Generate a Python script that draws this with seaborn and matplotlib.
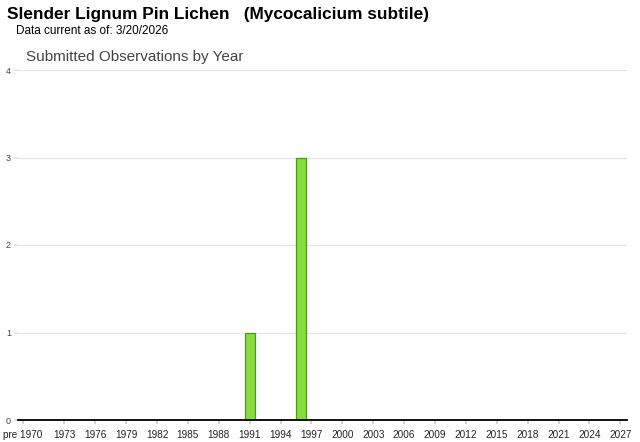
import matplotlib
matplotlib.use('Agg')
import pandas as pd
import matplotlib.pyplot as plt
import seaborn as sns

# observation data
first_year = 1970
last_year = 2027
obs_years = [1991, 1996]
obs_counts = [1, 3]
tick_years = list(range(1973, 2028, 3))

categories = ['pre 1970'] + [str(y) for y in range(first_year, last_year + 1)]
counts = dict(zip([str(y) for y in obs_years], obs_counts))
df = pd.DataFrame({'Year': categories, 'Count': [counts.get(c, 0) for c in categories]})

sns.set_theme(style='white')
plt.rcParams['font.family'] = ['Liberation Sans', 'DejaVu Sans']

fig = plt.figure(figsize=(6.4, 4.42), dpi=100)
ax = fig.add_axes([18 / 640, 22 / 442, 609 / 640, 350 / 442])

sns.barplot(data=df, x='Year', y='Count', order=categories, color='#86dc40',
            edgecolor='#4d9a17', linewidth=0.9, width=0.98, saturation=1, ax=ax)

ax.set_ylim(0, 4)
ax.set_xlim(-0.5, len(categories) - 0.35)
ax.set_yticks([0, 1, 2, 3, 4])
ax.yaxis.grid(True, color='#e3e3e3', linewidth=0.9)
ax.set_axisbelow(True)

tick_pos = [0] + [categories.index(str(y)) for y in tick_years]
tick_lab = ['pre 1970'] + [str(y) for y in tick_years]
ax.set_xticks(tick_pos)
ax.set_xticklabels(tick_lab, fontsize=7.2, color='#222222')
ax.tick_params(axis='x', length=3, color='#cccccc', pad=4, bottom=True)
ax.tick_params(axis='y', labelsize=6.5, colors='#444444', length=3, pad=2, left=True)
ax.tick_params(axis='y', color='#e3e3e3')

for s in ['top', 'right', 'left']:
    ax.spines[s].set_visible(False)
ax.spines['bottom'].set_color('black')
ax.spines['bottom'].set_linewidth(1.3)
ax.set_xlabel('')
ax.set_ylabel('')

fig.text(7 / 640, 1 - 15 / 442, 'Slender Lignum Pin Lichen   (Mycocalicium subtile)',
         fontsize=12.4, fontweight='bold', va='center', ha='left', color='black')
fig.text(16 / 640, 1 - 31 / 442, 'Data current as of: 3/20/2026',
         fontsize=8.5, va='center', ha='left', color='black')
fig.text(26 / 640, 1 - 57 / 442, 'Submitted Observations by Year',
         fontsize=11, va='center', ha='left', color='#444444')

fig.savefig('out.png', dpi=100)
